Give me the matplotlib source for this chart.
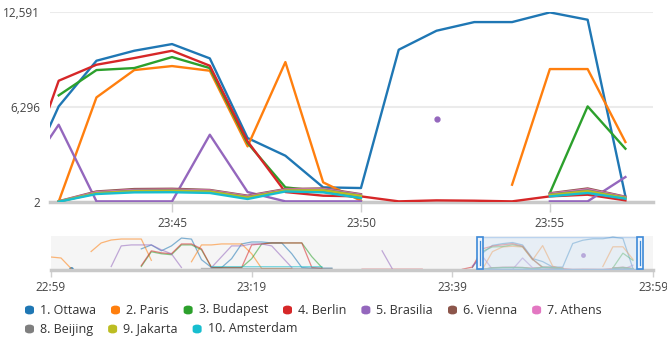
import numpy as np
import pandas as pd
import matplotlib
matplotlib.use("Agg")
import matplotlib.pyplot as plt
import matplotlib.dates as mdates
import matplotlib.transforms as mtransforms
from matplotlib.patches import Rectangle, FancyBboxPatch
from matplotlib.ticker import FuncFormatter

plt.rcParams["font.family"] = ["Open Sans", "DejaVu Sans"]

nan = np.nan

# one sample per minute, 22:59 .. 23:59
times = pd.date_range("2024-01-01 22:59", periods=61, freq="min")

ottawa = ([nan] * 2 + [300] + [nan] * 6
          + [8000, 9540, 7250, 9150, 12200, 11800, 3800, 760, 760, 4200,
             9920, 10680, 10680, 10300, 10300, 6100, 760, 500, 500, 500]
          + [nan] * 13
          + [800, 6337, 9362, 10024, 10466, 9517, 4239, 3069, 972, 927,
             10091, 11349, 11923, 11923, 12564, 12078, 375]
          + [nan] * 2)

paris = ([4840, 4460, 380] + [nan]
         + [6980, 10300, 11445, 11826, 11826, 11826, 3550]
         + [nan] * 3
         + [3000, 9538, 9538, 9919, 9919, 9919, 6104, 380, 380, 380, 380]
         + [nan] * 18
         + [30, 6933, 8744, 9009, 8700, 3687, 9274, 1303, 88]
         + [nan] * 3
         + [1148, 8810, 8810, 3974]
         + [nan] * 2)

budapest = ([nan] * 9
            + [1145, 6867, 6104, 5723, 9538, 9538, 7630, 763, 763, 763,
               763, 4197, 9919, 10300, 10300, 10300, 10300, 4960, 763]
            + [nan] * 15
            + [7066, 8744, 8876, 9605, 8876, 3908, 972, 706, 265]
            + [nan] * 4
            + [596, 6337, 3533]
            + [nan] * 2)

berlin = ([nan] * 9
          + [1526, 7250, 6486, 6104, 9919, 9919, 8012, 763, 763, 763,
             763, 9538, 9919, 10300, 10300, 10300, 10300, 763, 380]
          + [nan] * 3
          + [100, 100, 100, 100, 100, 100, 100]
          + [nan] * 3
          + [100, 950, 8037, 9097, 9539, 10024, 9031, 4019, 662, 420,
             375, 44, 110, 88, 44, 375, 486, 110]
          + [nan] * 2)

brasilia = ([nan] * 6
            + [1145, 9156, 9538, 9538, 9538, 7630, 6104, 763]
            + [nan] * 2
            + [763, 4960, 9156, 9156, 9919, 9919, 9156, 4960, 763]
            + [nan] * 8
            + [7250, 380]
            + [nan] * 7
            + [1400, 5122, 44, 44, 44, 4460, 662, 44, 44, 44]
            + [nan] + [5476] + [nan] * 2
            + [44, 44, 1656]
            + [nan] * 2)

vienna = ([nan] * 43
          + [50, 700, 860, 880, 800, 420, 860, 900, 520]
          + [nan] * 4 + [580, 900, 350] + [nan] * 2)

athens = ([nan] * 43
          + [40, 650, 800, 820, 760, 380, 820, 860, 480]
          + [nan] * 4 + [540, 840, 320] + [nan] * 2)

beijing = ([nan] * 15
           + [400, 400, 400, 400, 400, 400, 400, 400, 400, 400, 400, 400, 400, 400]
           + [nan] * 14
           + [30, 600, 760, 780, 720, 340, 780, 820, 440]
           + [nan] * 4 + [500, 780, 290] + [nan] * 2)

jakarta = ([nan] * 43
           + [30, 580, 720, 740, 690, 300, 760, 780, 400]
           + [nan] * 4 + [460, 720, 270] + [nan] * 2)

amsterdam = ([nan] * 16
             + [1100, 1100, 1100, 1100, 1100, 1100, 1100, 1100, 1100, 1100, 1100, 1100]
             + [nan] * 15
             + [20, 530, 640, 650, 600, 200, 700, 640, 265]
             + [nan] * 4 + [375, 600, 220] + [nan] * 2)

names = ["1. Ottawa", "2. Paris", "3. Budapest", "4. Berlin", "5. Brasilia",
         "6. Vienna", "7. Athens", "8. Beijing", "9. Jakarta", "10. Amsterdam"]
series = [ottawa, paris, budapest, berlin, brasilia,
          vienna, athens, beijing, jakarta, amsterdam]
colors = ["#1f77b4", "#ff7f0e", "#2ca02c", "#d62728", "#9467bd",
          "#8c564b", "#e377c2", "#7f7f7f", "#bcbd22", "#17becf"]

y_ticks = [2, 6296, 12591]
main_ticks = ["23:45", "23:50", "23:55"]
nav_ticks = ["22:59", "23:19", "23:39", "23:59"]

W, H = 667, 341


def lone(vals):
    v = np.asarray(vals, float)
    ok = ~np.isnan(v)
    prev = np.r_[False, ok[:-1]]
    nxt = np.r_[ok[1:], False]
    return ok & ~prev & ~nxt


def at(hhmm):
    return pd.Timestamp("2024-01-01 " + hhmm)


fig = plt.figure(figsize=(W / 100, H / 100), dpi=100)

# ---- main chart
ax = fig.add_axes([50 / W, 1 - 202 / H, 603 / W, 190 / H])
for vals, c in zip(series, colors):
    v = np.asarray(vals, float)
    ax.plot(times, v, color=c, lw=1.7, zorder=3)
    m = lone(v)
    if m.any():
        ax.plot(times[m], v[m], "o", color=c, ms=3.5, zorder=3)

win_lo = times[0] + pd.Timedelta(minutes=42.77)
win_hi = times[0] + pd.Timedelta(minutes=58.73)
ax.set_xlim(win_lo, win_hi)
ax.set_ylim(2, 12591)
for s in ax.spines.values():
    s.set_visible(False)
ax.set_yticks(y_ticks)
ax.yaxis.set_major_formatter(FuncFormatter(lambda v, p: f"{int(v):,}"))
ax.yaxis.grid(True, color="#ebebeb", lw=1.5, zorder=0)
ax.axhline(2, color="#c9c9c9", lw=2.5, zorder=2, clip_on=False)
ax.tick_params(axis="y", length=0, pad=7, labelsize=8.5, labelcolor="#444")
ax.set_xticks([at(t) for t in main_ticks])
ax.xaxis.set_major_formatter(mdates.DateFormatter("%H:%M"))
ax.tick_params(axis="x", length=7, width=1, color="#d0d0d0", pad=4,
               labelsize=8.5, labelcolor="#444")

# ---- navigator strip
nav = fig.add_axes([51 / W, 1 - 270 / H, 602 / W, 34 / H])
nav.set_facecolor("#f5f5f5")
for vals, c in zip(series, colors):
    v = np.asarray(vals, float)
    nav.plot(times, v, color=c, lw=0.9, alpha=0.55, zorder=2)
    m = lone(v)
    if m.any():
        nav.plot(times[m], v[m], "o", color=c, ms=2.5, alpha=0.8, zorder=2)
nav.set_xlim(times[0], times[-1])
nav.set_ylim(-200, 13000)
for k, s in nav.spines.items():
    s.set_visible(k == "bottom")
nav.spines["bottom"].set_color("#c9c9c9")
nav.spines["bottom"].set_linewidth(2.5)
nav.set_yticks([])
nav.set_xticks([at(t) for t in nav_ticks[:-1]] + [times[-1]])
nav.xaxis.set_major_formatter(mdates.DateFormatter("%H:%M"))
nav.tick_params(axis="x", length=5, width=1, color="#d0d0d0", pad=3,
                labelsize=8.5, labelcolor="#444")

# selected window on the navigator
tr = mtransforms.blended_transform_factory(nav.transData, nav.transAxes)
x0 = mdates.date2num(win_lo)
x1 = mdates.date2num(win_hi)
nav.add_patch(Rectangle((x0, 0.03), x1 - x0, 0.95, transform=tr,
                        facecolor="#d6e6f7", alpha=0.45, edgecolor="#7fb0e6",
                        lw=1, zorder=3))
hw = 0.55 / 1440
for xc in (x0, x1):
    nav.add_patch(Rectangle((xc - hw / 2, 0.03), hw, 0.95, transform=tr,
                            facecolor="#eef5fd", edgecolor="#3d8ad8",
                            lw=1.2, zorder=4))
    nav.plot([xc, xc], [0.15, 0.85], transform=tr, color="#3d8ad8",
             lw=0.9, zorder=5)

# ---- legend, two rows
renderer = fig.canvas.get_renderer()
rows = [list(range(0, 7)), list(range(7, 10))]
row_y = [310, 329]
for r, idx in enumerate(rows):
    x = 25
    y = row_y[r]
    for i in idx:
        fig.patches.append(FancyBboxPatch(
            ((x) / W, 1 - (y + 4.5) / H), 9 / W, 9 / H,
            boxstyle="round,pad=0,rounding_size=0.008",
            transform=fig.transFigure, facecolor=colors[i],
            edgecolor="none"))
        t = fig.text((x + 15) / W, 1 - y / H, names[i], fontsize=9,
                     color="#333", va="center", ha="left")
        w = t.get_window_extent(renderer).width
        x += 15 + w + 15

fig.savefig("out.png", dpi=100)
